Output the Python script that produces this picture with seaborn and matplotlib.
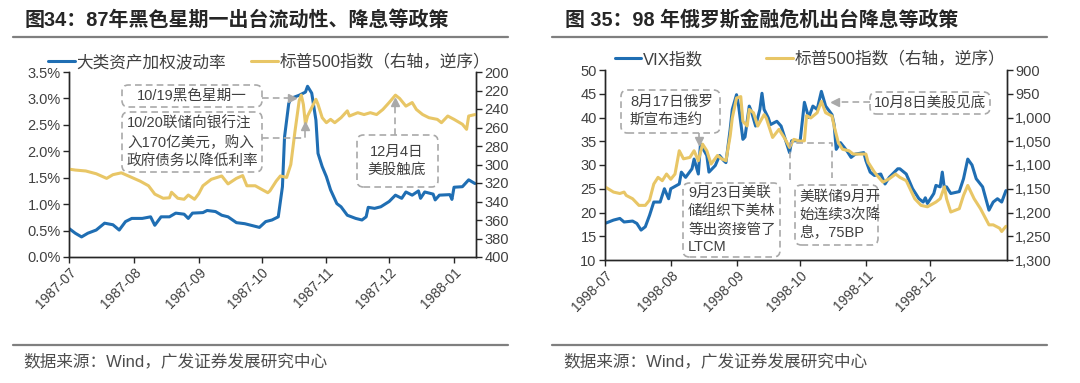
import numpy as np
import pandas as pd
import matplotlib
matplotlib.use('Agg')
import matplotlib.pyplot as plt
import matplotlib.dates as mdates
import matplotlib.ticker as mticker
from matplotlib.patches import FancyBboxPatch
from matplotlib.lines import Line2D
import seaborn as sns

# ---------------- data : 1987 ----------------
vol87_dates = ['1987-07-01', '1987-07-04', '1987-07-07', '1987-07-10', '1987-07-14', '1987-07-18',
               '1987-07-22', '1987-07-25', '1987-07-28', '1987-07-31', '1987-08-05', '1987-08-09',
               '1987-08-11', '1987-08-14', '1987-08-18', '1987-08-21', '1987-08-25', '1987-08-27',
               '1987-08-29', '1987-09-03', '1987-09-05', '1987-09-09', '1987-09-12', '1987-09-15',
               '1987-09-19', '1987-09-23', '1987-09-26', '1987-09-30', '1987-10-03', '1987-10-06',
               '1987-10-09', '1987-10-11', '1987-10-12', '1987-10-14', '1987-10-15', '1987-10-19',
               '1987-10-22', '1987-10-23', '1987-10-25', '1987-10-27', '1987-10-28', '1987-10-30',
               '1987-11-01', '1987-11-03', '1987-11-06', '1987-11-08', '1987-11-11', '1987-11-15',
               '1987-11-18', '1987-11-20', '1987-11-21', '1987-11-24', '1987-11-27', '1987-12-01',
               '1987-12-04', '1987-12-07', '1987-12-09', '1987-12-12', '1987-12-15', '1987-12-16',
               '1987-12-18', '1987-12-22', '1987-12-23', '1987-12-25', '1987-12-30', '1987-12-31',
               '1988-01-01', '1988-01-05', '1988-01-08', '1988-01-11']
vol87 = [0.54, 0.45, 0.38, 0.45, 0.51, 0.64,
         0.61, 0.51, 0.67, 0.73, 0.73, 0.76,
         0.60, 0.76, 0.76, 0.83, 0.81, 0.73,
         0.83, 0.84, 0.88, 0.86, 0.79, 0.76,
         0.65, 0.63, 0.60, 0.56, 0.67, 0.70,
         0.76, 1.33, 2.27, 2.90, 3.00, 3.06,
         3.12, 3.23, 3.10, 2.59, 1.96, 1.71,
         1.52, 1.27, 1.01, 0.95, 0.79, 0.73,
         0.70, 0.76, 0.94, 0.92, 0.95, 1.05,
         1.17, 1.11, 1.23, 1.17, 1.25, 1.11,
         1.23, 1.19, 1.08, 1.17, 1.18, 1.09,
         1.32, 1.33, 1.46, 1.39]

spx87_dates = ['1987-07-01', '1987-07-04', '1987-07-09', '1987-07-14', '1987-07-19', '1987-07-22',
               '1987-07-26', '1987-07-31', '1987-08-04', '1987-08-08', '1987-08-11', '1987-08-15',
               '1987-08-18', '1987-08-19', '1987-08-22', '1987-08-25', '1987-08-27', '1987-08-30',
               '1987-09-01', '1987-09-03', '1987-09-07', '1987-09-12', '1987-09-15', '1987-09-19',
               '1987-09-22', '1987-09-24', '1987-09-28', '1987-10-01', '1987-10-04', '1987-10-05',
               '1987-10-08', '1987-10-10', '1987-10-13', '1987-10-15', '1987-10-17', '1987-10-19',
               '1987-10-20', '1987-10-21', '1987-10-22', '1987-10-23', '1987-10-25', '1987-10-27',
               '1987-10-28', '1987-10-30', '1987-11-01', '1987-11-03', '1987-11-05', '1987-11-08',
               '1987-11-11', '1987-11-12', '1987-11-16', '1987-11-19', '1987-11-22', '1987-11-25',
               '1987-11-28', '1987-12-01', '1987-12-04', '1987-12-06', '1987-12-09', '1987-12-12',
               '1987-12-14', '1987-12-17', '1987-12-20', '1987-12-24', '1987-12-26', '1987-12-29',
               '1988-01-01', '1988-01-05', '1988-01-07', '1988-01-08', '1988-01-11']
spx87 = [305, 306, 307, 310, 315, 311,
         309, 314, 318, 323, 332, 336.5,
         336, 330, 336.5, 337.6, 333, 337.6,
         331.6, 323, 316, 312.4, 321, 315,
         312, 323, 323, 326.8, 330.5, 328.6,
         318, 312.4, 314, 300, 264, 231,
         225, 235, 256.5, 247.6, 238.6, 229.5,
         235, 249.4, 254.8, 251.2, 254.8, 249.4,
         242, 247.6, 244, 246, 244, 246,
         240.5, 233, 225, 228.6, 236.9, 233,
         240.5, 246, 249.4, 251.2, 254.8, 247.6,
         251.2, 256.5, 262, 247.6, 246]

# ---------------- data : 1998 ----------------
vix98_dates = ['1998-07-01', '1998-07-05', '1998-07-08', '1998-07-10', '1998-07-14', '1998-07-16',
               '1998-07-18', '1998-07-20', '1998-07-22', '1998-07-24', '1998-07-27', '1998-07-29',
               '1998-07-31', '1998-08-01', '1998-08-05', '1998-08-06', '1998-08-08', '1998-08-11',
               '1998-08-12', '1998-08-14', '1998-08-15', '1998-08-18', '1998-08-19', '1998-08-22',
               '1998-08-24', '1998-08-26', '1998-08-27', '1998-08-29', '1998-08-30', '1998-09-01',
               '1998-09-02', '1998-09-04', '1998-09-05', '1998-09-07', '1998-09-08', '1998-09-10',
               '1998-09-12', '1998-09-13', '1998-09-14', '1998-09-16', '1998-09-17', '1998-09-20',
               '1998-09-22', '1998-09-24', '1998-09-26', '1998-09-27', '1998-10-01', '1998-10-03',
               '1998-10-05', '1998-10-07', '1998-10-09', '1998-10-11', '1998-10-13', '1998-10-16',
               '1998-10-17', '1998-10-18', '1998-10-20', '1998-10-23', '1998-10-25', '1998-10-27',
               '1998-10-31', '1998-11-01', '1998-11-03', '1998-11-05', '1998-11-08', '1998-11-10',
               '1998-11-12', '1998-11-16', '1998-11-17', '1998-11-20', '1998-11-23', '1998-11-26',
               '1998-11-28', '1998-11-29', '1998-11-30', '1998-12-03', '1998-12-04', '1998-12-06',
               '1998-12-07', '1998-12-08', '1998-12-09', '1998-12-11', '1998-12-15', '1998-12-17',
               '1998-12-19', '1998-12-21', '1998-12-23', '1998-12-26', '1998-12-29', '1998-12-31',
               '1999-01-02', '1999-01-04', '1999-01-06']
vix98 = [17.7, 18.4, 18.75, 18.0, 18.2, 17.7,
         16.3, 17.0, 19.4, 22.2, 22.2, 25.0,
         22.9, 25.0, 26.0, 28.5, 27.4, 29.2,
         31.25, 28.1, 34.4, 32.0, 28.5, 29.9,
         32.0, 30.9, 30.5, 37.5, 41.7, 44.8,
         42.4, 35.4, 35.9, 42.4, 41.3, 38.2,
         41.7, 45.1, 41.7, 39.9, 38.5, 39.2,
         38.2, 35.4, 32.6, 35.1, 35.1, 43.2,
         40.0, 42.4, 41.7, 45.5, 42.4, 40.6,
         38.5, 33.3, 34.7, 33.0, 31.6, 32.3,
         32.6, 30.9, 28.5, 27.8, 28.1, 26.0,
         27.4, 29.2, 29.2, 28.1, 25.0, 22.9,
         22.2, 23.1, 21.9, 24.0, 25.7, 25.4,
         28.5, 25.0, 25.4, 24.0, 24.4, 27.1,
         31.25, 30.0, 27.1, 25.4, 20.5, 22.2,
         22.9, 22.2, 24.6]

spx98_dates = ['1998-07-01', '1998-07-05', '1998-07-08', '1998-07-10', '1998-07-11', '1998-07-14',
               '1998-07-17', '1998-07-20', '1998-07-22', '1998-07-24', '1998-07-26', '1998-07-28',
               '1998-07-30', '1998-08-01', '1998-08-03', '1998-08-05', '1998-08-07', '1998-08-10',
               '1998-08-12', '1998-08-14', '1998-08-16', '1998-08-18', '1998-08-20', '1998-08-23',
               '1998-08-25', '1998-08-27', '1998-08-29', '1998-08-30', '1998-09-01', '1998-09-03',
               '1998-09-04', '1998-09-06', '1998-09-07', '1998-09-09', '1998-09-11', '1998-09-14',
               '1998-09-15', '1998-09-18', '1998-09-21', '1998-09-24', '1998-09-26', '1998-09-28',
               '1998-10-01', '1998-10-03', '1998-10-04', '1998-10-06', '1998-10-09', '1998-10-11',
               '1998-10-13', '1998-10-16', '1998-10-17', '1998-10-19', '1998-10-21', '1998-10-24',
               '1998-10-26', '1998-10-30', '1998-11-01', '1998-11-02', '1998-11-05', '1998-11-07',
               '1998-11-09', '1998-11-12', '1998-11-15', '1998-11-17', '1998-11-20', '1998-11-24',
               '1998-11-27', '1998-11-30', '1998-12-04', '1998-12-06', '1998-12-08', '1998-12-09',
               '1998-12-11', '1998-12-15', '1998-12-17', '1998-12-19', '1998-12-22', '1998-12-25',
               '1998-12-27', '1998-12-29', '1998-12-31', '1999-01-03', '1999-01-04', '1999-01-06']
spx98 = [1146, 1157, 1160, 1157, 1164, 1171,
         1185, 1185, 1174, 1140, 1126, 1133,
         1119, 1130, 1119, 1070, 1087, 1084,
         1070, 1091, 1056, 1070, 1098, 1080,
         1087, 1091, 1039, 1001, 959, 956,
         1008, 1018, 983, 990, 1018, 994,
         1001, 1042, 1025, 1046, 1063, 1046,
         1050, 1049, 996, 1001, 990, 966,
         990, 997, 1018, 1053, 1067, 1070,
         1077, 1077, 1077, 1094, 1115, 1126,
         1136, 1129, 1119, 1126, 1133, 1171,
         1185, 1188, 1178, 1171, 1146, 1171,
         1199, 1192, 1164, 1143, 1171, 1192,
         1209, 1226, 1226, 1233, 1240, 1229]

left_x_ticks = ['1987-07-01', '1987-08-01', '1987-09-01', '1987-10-01', '1987-11-01',
                '1987-12-01', '1988-01-01']
right_x_ticks = ['1998-07-01', '1998-08-01', '1998-09-01', '1998-10-01', '1998-11-01',
                 '1998-12-01']
left_y_ticks = [0, 0.5, 1.0, 1.5, 2.0, 2.5, 3.0, 3.5]
left_y2_ticks = [200, 220, 240, 260, 280, 300, 320, 340, 360, 380, 400]
right_y_ticks = [10, 15, 20, 25, 30, 35, 40, 45, 50]
right_y2_ticks = [900, 950, 1000, 1050, 1100, 1150, 1200, 1250, 1300]

title_left = '图34：87年黑色星期一出台流动性、降息等政策'
title_right = '图 35：98 年俄罗斯金融危机出台降息等政策'
source_text = '数据来源：Wind，广发证券发展研究中心'
legend_left = ['大类资产加权波动率', '标普500指数（右轴，逆序）']
legend_right = ['VIX指数', '标普500指数（右轴，逆序）']

# ---------------- style ----------------
sns.set_theme(style='white')
plt.rcParams['font.family'] = ['Liberation Sans', 'Noto Sans CJK SC']
plt.rcParams['axes.unicode_minus'] = False

W, H = 1080, 383
fig = plt.figure(figsize=(W / 100, H / 100), dpi=100)
fig.patch.set_facecolor('white')


def fx(px):
    return px / W


def fy(py):
    return 1 - py / H


BLUE = '#1F6EB3'
GOLD = '#E8C666'
GRAY = '#A9A9A9'
TXT = '#404040'
DASH = (0, (4, 2.5))
LW = 2.2


def style_axes(ax, axr, xticks):
    for a in (ax, axr):
        a.spines['top'].set_visible(False)
        for s in ('left', 'right', 'bottom'):
            a.spines[s].set_color('#262626')
            a.spines[s].set_linewidth(1.0)
        a.grid(False)
        a.set_xlabel('')
        a.set_ylabel('')
    ax.tick_params(axis='both', which='major', bottom=True, left=True, direction='out',
                   length=4, width=1, color='#262626', labelsize=10.5, labelcolor=TXT, pad=2)
    axr.tick_params(axis='y', which='major', right=True, direction='out',
                    length=4, width=1, color='#262626', labelsize=10.5, labelcolor=TXT, pad=2)
    ax.set_xticks(pd.to_datetime(xticks))
    ax.xaxis.set_major_formatter(mdates.DateFormatter('%Y-%m'))
    plt.setp(ax.get_xticklabels(), rotation=45, ha='right', rotation_mode='anchor',
             fontsize=10)


# ---------------- left chart ----------------
ax1 = fig.add_axes([fx(69), fy(257), fx(476) - fx(69), fy(72) - fy(257)])
ax1r = ax1.twinx()
sns.lineplot(x=pd.to_datetime(vol87_dates), y=np.array(vol87) / 100, ax=ax1,
             color=BLUE, lw=LW, legend=False)
sns.lineplot(x=pd.to_datetime(spx87_dates), y=spx87, ax=ax1r,
             color=GOLD, lw=LW, legend=False)
ax1.set_xlim(pd.Timestamp('1987-07-01'), pd.Timestamp('1988-01-11 12:00'))
ax1.set_ylim(0, 0.035)
ax1.set_yticks(np.array(left_y_ticks) / 100)
ax1.yaxis.set_major_formatter(mticker.PercentFormatter(1.0, decimals=1))
ax1r.set_ylim(400, 200)
ax1r.set_yticks(left_y2_ticks)
style_axes(ax1, ax1r, left_x_ticks)

# ---------------- right chart ----------------
ax2 = fig.add_axes([fx(605), fy(260), fx(1007) - fx(605), fy(70) - fy(260)])
ax2r = ax2.twinx()
sns.lineplot(x=pd.to_datetime(vix98_dates), y=vix98, ax=ax2,
             color=BLUE, lw=LW, legend=False)
sns.lineplot(x=pd.to_datetime(spx98_dates), y=spx98, ax=ax2r,
             color=GOLD, lw=LW, legend=False)
ax2.set_xlim(pd.Timestamp('1998-07-01'), pd.Timestamp('1999-01-06 12:00'))
ax2.set_ylim(10, 50)
ax2.set_yticks(right_y_ticks)
ax2r.set_ylim(1300, 900)
ax2r.set_yticks(right_y2_ticks)
ax2r.yaxis.set_major_formatter(mticker.FuncFormatter(lambda v, p: f'{v:,.0f}'))
style_axes(ax2, ax2r, right_x_ticks)

# ---------------- legends ----------------
fig.legend(handles=[ax1.lines[0], ax1r.lines[0]], labels=legend_left, loc='center',
           bbox_to_anchor=(fx(269), fy(62)), ncol=2, frameon=False, fontsize=12,
           handlelength=1.6, handletextpad=0.1, columnspacing=1.5, borderpad=0,
           labelcolor=TXT)
fig.legend(handles=[ax2.lines[0], ax2r.lines[0]], labels=legend_right, loc='center',
           bbox_to_anchor=(fx(810), fy(59)), ncol=2, frameon=False, fontsize=12,
           handlelength=1.6, handletextpad=0.1, columnspacing=3.8, borderpad=0,
           labelcolor=TXT)


# ---------------- titles / footers ----------------
def hline(x0, x1, y, color='#7F7F7F', lw=1.6):
    fig.add_artist(Line2D([fx(x0), fx(x1)], [fy(y), fy(y)], transform=fig.transFigure,
                          color=color, lw=lw))


fig.text(fx(25), fy(20), title_left, fontsize=14.4, fontweight='bold', color='#262626',
         ha='left', va='center')
fig.text(fx(565), fy(20), title_right, fontsize=14.3, fontweight='bold', color='#262626',
         ha='left', va='center')
hline(13, 508, 37)
hline(552, 1047, 37)
hline(13, 508, 345)
hline(552, 1047, 345)
fig.text(fx(23), fy(361), source_text, fontsize=12, color='#4D4D4D', ha='left', va='center')
fig.text(fx(563), fy(361), source_text, fontsize=12, color='#4D4D4D', ha='left', va='center')


# ---------------- annotations ----------------
def box(x0, y0, x1, y1):
    p = FancyBboxPatch((fx(x0), fy(y1)), fx(x1) - fx(x0), fy(y0) - fy(y1),
                       boxstyle='round,pad=0,rounding_size=0.006', mutation_aspect=W / H,
                       transform=fig.transFigure, fill=False, edgecolor=GRAY,
                       linestyle=DASH, linewidth=1.2, zorder=5)
    fig.add_artist(p)


def note(x, y, s, ha='left'):
    fig.text(fx(x), fy(y), s, fontsize=10.5, color=TXT, ha=ha, va='center',
             linespacing=1.35, zorder=6)


def dline(xs, ys, marker=None, mpos=None):
    fig.add_artist(Line2D([fx(v) for v in xs], [fy(v) for v in ys], transform=fig.transFigure,
                          color=GRAY, lw=1.2, ls=DASH, zorder=5))
    if marker:
        fig.add_artist(Line2D([fx(mpos[0])], [fy(mpos[1])], transform=fig.transFigure,
                              color=GRAY, marker=marker, ms=6, ls='none', zorder=5))


# left chart notes
box(122, 85, 262, 107)
note(192, 96, '10/19黑色星期一', ha='center')
dline([262, 289], [98, 98], '>', (292, 98))
box(122, 112, 262, 172)
note(127, 142, '10/20联储向银行注\n入170亿美元，购入\n政府债务以降低利率')
dline([262, 305, 305], [138, 138, 128], '^', (305, 126))
box(357, 135, 438, 187)
note(397, 161, '12月4日\n美股触底', ha='center')
dline([395, 395], [135, 104], '^', (395, 102))

# right chart notes
box(621, 90, 720, 133)
note(630, 111, '8月17日俄罗\n斯宣布违约')
dline([699, 699], [133, 138], 'v', (699, 141))
box(683, 183, 780, 257)
note(688, 220, '9月23日美联\n储组织下美林\n等出资接管了\nLTCM')
box(795, 185, 878, 245)
note(799, 215, '美联储9月开\n始连续3次降\n息，75BP')
dline([790, 790, 832, 832], [180, 143, 143, 178])
box(870, 92, 990, 114)
note(930, 103, '10月8日美股见底', ha='center')
dline([870, 838], [102, 102], '<', (835, 102))

fig.savefig('out.png', dpi=100, facecolor='white')
